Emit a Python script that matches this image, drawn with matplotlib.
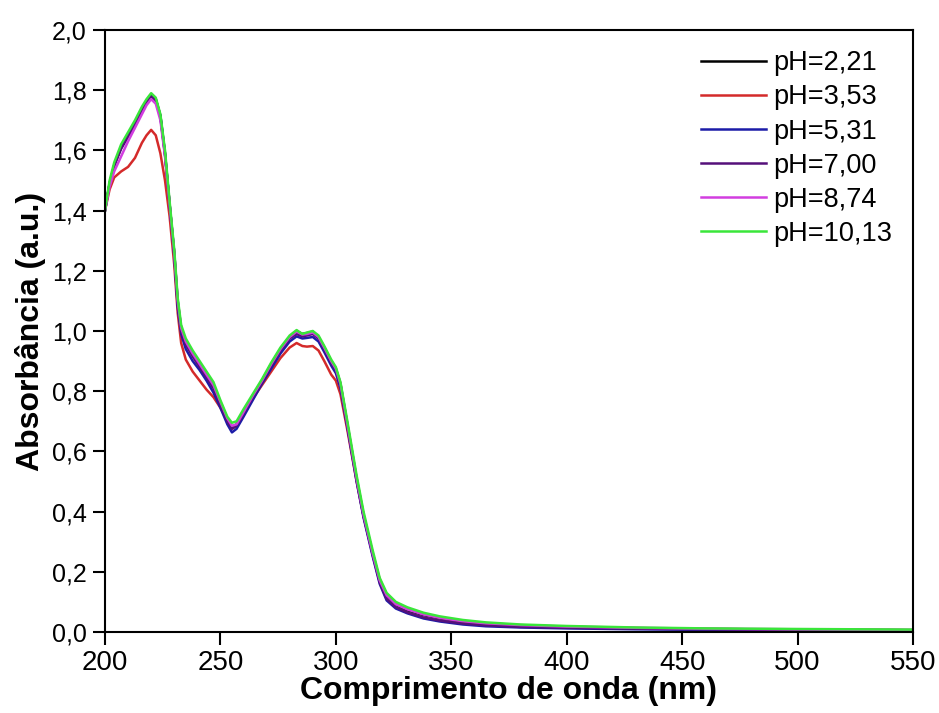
import matplotlib
matplotlib.use("Agg")
import matplotlib.pyplot as plt
from matplotlib.ticker import FuncFormatter

plt.rcParams['font.family'] = ['Liberation Sans', 'DejaVu Sans']

# comprimento de onda (nm)
wl = [200, 202, 204, 207, 210, 213, 216, 218, 220, 222,
      224, 226, 228, 230, 231.5, 233, 235, 238, 241, 244,
      247, 250, 253, 255, 257, 260, 264, 268, 272, 276,
      280, 283, 285.5, 287.5, 290, 292.5, 295, 298, 300, 302,
      305, 309, 312, 316, 319, 322, 326, 331, 338, 345,
      355, 365, 380, 400, 430, 460, 500, 550]

ph_221 = [1.40, 1.49, 1.55, 1.61, 1.65, 1.69, 1.735, 1.765, 1.785, 1.77,
          1.715, 1.59, 1.42, 1.26, 1.10, 1.01, 0.965, 0.925, 0.89, 0.855,
          0.815, 0.76, 0.705, 0.68, 0.69, 0.73, 0.785, 0.835, 0.89, 0.94,
          0.98, 1.0, 0.99, 0.993, 0.998, 0.98, 0.945, 0.90, 0.875, 0.825,
          0.69, 0.51, 0.39, 0.26, 0.17, 0.12, 0.09, 0.072, 0.056, 0.045,
          0.034, 0.027, 0.021, 0.017, 0.012, 0.01, 0.008, 0.006]
ph_353 = [1.40, 1.47, 1.51, 1.53, 1.545, 1.575, 1.625, 1.65, 1.668, 1.65,
          1.59, 1.50, 1.38, 1.22, 1.06, 0.96, 0.905, 0.865, 0.835, 0.805,
          0.78, 0.745, 0.70, 0.675, 0.685, 0.725, 0.775, 0.82, 0.865, 0.91,
          0.945, 0.96, 0.95, 0.948, 0.95, 0.935, 0.90, 0.855, 0.835, 0.79,
          0.67, 0.50, 0.385, 0.26, 0.175, 0.125, 0.095, 0.077, 0.06, 0.048,
          0.036, 0.028, 0.022, 0.017, 0.013, 0.01, 0.008, 0.006]
ph_531 = [1.40, 1.49, 1.55, 1.61, 1.65, 1.69, 1.735, 1.765, 1.785, 1.77,
          1.715, 1.59, 1.42, 1.25, 1.08, 0.99, 0.94, 0.90, 0.87, 0.835,
          0.795, 0.745, 0.69, 0.663, 0.675, 0.715, 0.77, 0.825, 0.875, 0.925,
          0.965, 0.982, 0.975, 0.977, 0.98, 0.965, 0.93, 0.885, 0.86, 0.81,
          0.68, 0.50, 0.38, 0.25, 0.16, 0.105, 0.078, 0.062, 0.045, 0.035,
          0.025, 0.019, 0.015, 0.012, 0.009, 0.007, 0.006, 0.005]
ph_700 = [1.40, 1.49, 1.55, 1.605, 1.645, 1.685, 1.73, 1.76, 1.78, 1.765,
          1.71, 1.585, 1.42, 1.26, 1.09, 1.00, 0.955, 0.915, 0.88, 0.845,
          0.81, 0.755, 0.70, 0.675, 0.685, 0.725, 0.78, 0.83, 0.885, 0.935,
          0.975, 0.99, 0.982, 0.985, 0.99, 0.975, 0.94, 0.895, 0.87, 0.82,
          0.685, 0.505, 0.385, 0.255, 0.165, 0.11, 0.082, 0.065, 0.048, 0.038,
          0.028, 0.022, 0.017, 0.014, 0.011, 0.009, 0.007, 0.005]
ph_874 = [1.40, 1.48, 1.53, 1.58, 1.63, 1.675, 1.72, 1.75, 1.77, 1.755,
          1.70, 1.58, 1.42, 1.26, 1.10, 1.01, 0.965, 0.925, 0.89, 0.855,
          0.82, 0.765, 0.71, 0.685, 0.69, 0.73, 0.785, 0.835, 0.89, 0.94,
          0.98, 0.998, 0.988, 0.99, 0.995, 0.98, 0.945, 0.90, 0.875, 0.825,
          0.69, 0.51, 0.39, 0.26, 0.172, 0.122, 0.092, 0.075, 0.058, 0.047,
          0.036, 0.029, 0.023, 0.018, 0.014, 0.011, 0.009, 0.007]
ph_1013 = [1.40, 1.50, 1.56, 1.62, 1.66, 1.70, 1.745, 1.77, 1.79, 1.775,
           1.72, 1.60, 1.43, 1.27, 1.11, 1.02, 0.975, 0.935, 0.90, 0.865,
           0.83, 0.77, 0.715, 0.695, 0.70, 0.74, 0.79, 0.84, 0.895, 0.945,
           0.985, 1.003, 0.99, 0.995, 1.0, 0.985, 0.95, 0.905, 0.88, 0.83,
           0.70, 0.52, 0.40, 0.27, 0.18, 0.13, 0.10, 0.082, 0.064, 0.052,
           0.04, 0.032, 0.025, 0.02, 0.015, 0.012, 0.01, 0.008]

series = [ph_221, ph_353, ph_531, ph_700, ph_874, ph_1013]
labels = ["pH=2,21", "pH=3,53", "pH=5,31", "pH=7,00", "pH=8,74", "pH=10,13"]
cores = ["#000000", "#d42a2a", "#1c1ca8", "#55107a", "#d23ee0", "#3ae63a"]

fig = plt.figure(figsize=(9.39, 7.13), dpi=100)
ax = fig.add_axes([0.1118, 0.1136, 0.8605, 0.8444])

for y, lab, c in zip(series, labels, cores):
    ax.plot(wl, y, color=c, lw=1.8, label=lab)

ax.set_xlim(200, 550)
ax.set_ylim(0, 2.0)
ax.set_xticks([200, 250, 300, 350, 400, 450, 500, 550])
ax.set_yticks([0, 0.2, 0.4, 0.6, 0.8, 1.0, 1.2, 1.4, 1.6, 1.8, 2.0])
ax.yaxis.set_major_formatter(FuncFormatter(lambda v, p: f"{v:.1f}".replace(".", ",")))

for s in ax.spines.values():
    s.set_linewidth(1.5)
ax.tick_params(axis='both', direction='out', length=9, width=1.5, top=False, right=False)
ax.tick_params(axis='x', labelsize=20, pad=4)
ax.tick_params(axis='y', labelsize=18, pad=4)

ax.set_xlabel("Comprimento de onda (nm)", fontsize=23, fontweight='bold', labelpad=0)
ax.set_ylabel("Absorbância (a.u.)", fontsize=23, fontweight='bold', labelpad=4)

leg = ax.legend(loc='upper right', bbox_to_anchor=(1.0, 1.0), frameon=False,
                fontsize=19.5, handlelength=2.4, labelspacing=0.3, handletextpad=0.3,
                borderaxespad=0.35)

fig.savefig("out.png", dpi=100)
